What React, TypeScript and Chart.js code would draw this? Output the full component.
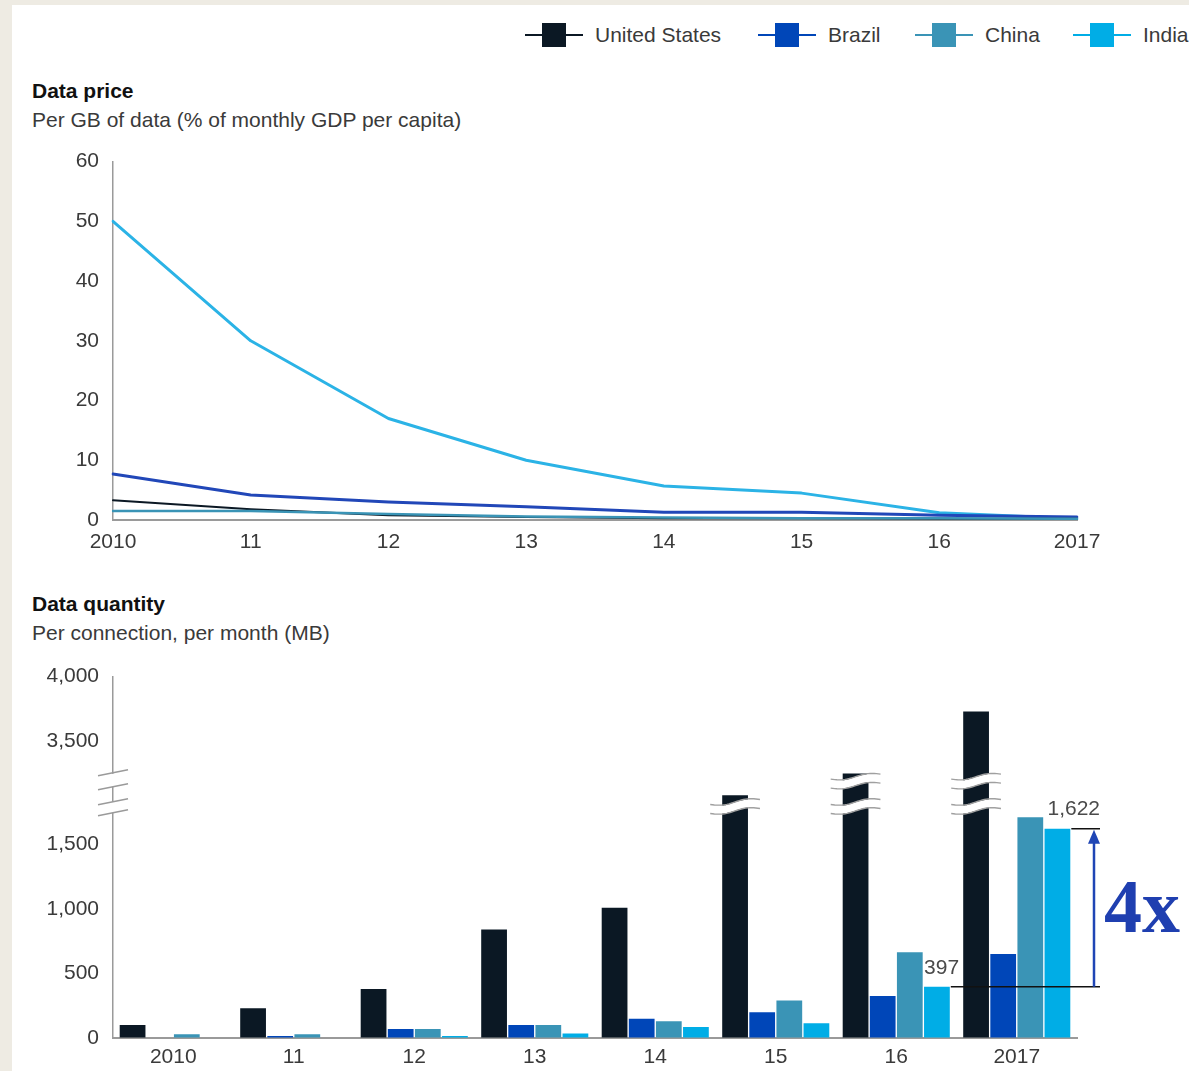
import React, { useEffect, useRef } from 'react';
import { Chart, registerables } from 'chart.js';

Chart.register(...registerables);

// ---------- data ----------
const years = ['2010', '11', '12', '13', '14', '15', '16', '2017'];
const seriesNames = ['United States', 'Brazil', 'China', 'India'];

// Data price: per GB (% of monthly GDP per capita)
const priceUS = [3.3, 1.8, 0.8, 0.5, 0.3, 0.3, 0.2, 0.2];
const priceBrazil = [7.7, 4.2, 3.0, 2.2, 1.3, 1.3, 0.8, 0.5];
const priceChina = [1.5, 1.5, 1.0, 0.6, 0.4, 0.3, 0.3, 0.2];
const priceIndia = [50, 30, 17, 10, 5.7, 4.5, 1.2, 0.2];
const priceTicks = [0, 10, 20, 30, 40, 50, 60];

// Data quantity: per connection, per month (MB)
const qtyUS = [100, 230, 380, 840, 1010, 2400, 3250, 3730];
const qtyBrazil = [0, 15, 70, 100, 150, 200, 325, 650];
const qtyChina = [30, 30, 70, 100, 130, 290, 665, 1710];
const qtyIndia = [0, 0, 15, 35, 85, 115, 397, 1622];
const qtyTicks = [0, 500, 1000, 1500, 3500, 4000];
const truncatedUS = [5, 6, 7]; // bars drawn with break marks

// ---------- styles ----------
const colorUS = '#0b1824';
const colorBrazil = '#0046b8';
const colorChina = '#3a94b6';
const colorIndia = '#00ade6';
const lineBrazil = '#2147b8';
const lineIndia = '#2bb3e6';
const seriesColors = [colorUS, colorBrazil, colorChina, colorIndia];
const FONT = '"Liberation Sans", Arial, sans-serif';
const TEXT = '#3a3a3a';
const AXIS = '#9a9a9a';

// broken axis mapping (real MB -> axis units)
const BREAK_LO = 1750;
const BREAK_HI = 3250;
const BREAK_SHIFT = 1200;
function toAxis(v: number): number {
  if (v <= BREAK_LO) return v;
  if (v >= BREAK_HI) return v - BREAK_SHIFT;
  const top = BREAK_HI - BREAK_SHIFT;
  return BREAK_LO + ((v - BREAK_LO) * (top - BREAK_LO)) / (BREAK_HI - BREAK_LO);
}

function PriceChart() {
  const ref = useRef<HTMLCanvasElement>(null);
  useEffect(() => {
    const mk = (label: string, data: number[], color: string, width: number) => ({
      label,
      data,
      borderColor: color,
      backgroundColor: color,
      borderWidth: width,
      pointRadius: 0,
      pointHoverRadius: 0,
      tension: 0,
      borderJoinStyle: 'round' as const,
      borderCapStyle: 'round' as const,
      fill: false,
    });
    const chart = new Chart(ref.current!, {
      type: 'line',
      data: {
        labels: years,
        datasets: [
          mk(seriesNames[2], priceChina, colorChina, 2.5),
          mk(seriesNames[0], priceUS, colorUS, 2),
          mk(seriesNames[1], priceBrazil, lineBrazil, 3),
          mk(seriesNames[3], priceIndia, lineIndia, 3),
        ],
      },
      options: {
        responsive: false,
        animation: false,
        devicePixelRatio: 1,
        layout: { autoPadding: false, padding: { top: 25, right: 112, left: 0, bottom: 0 } },
        plugins: { legend: { display: false }, tooltip: { enabled: false } },
        scales: {
          x: {
            type: 'category',
            offset: false,
            grid: { display: true, drawOnChartArea: false, drawTicks: false, color: 'transparent' },
            border: { display: true, color: AXIS, width: 2 },
            ticks: { font: { family: FONT, size: 21 }, color: TEXT, padding: 10, maxRotation: 0, autoSkip: false },
            afterFit: (s: any) => { s.height = 40; },
          },
          y: {
            min: 0,
            max: 60,
            grid: { display: true, drawOnChartArea: false, drawTicks: false, color: 'transparent' },
            border: { display: true, color: AXIS, width: 1.5 },
            afterBuildTicks: (s: any) => { s.ticks = priceTicks.map((v) => ({ value: v })); },
            ticks: { font: { family: FONT, size: 21 }, color: TEXT, padding: 14 },
            afterFit: (s: any) => { s.width = 113; },
          },
        },
      },
    });
    return () => chart.destroy();
  }, []);
  return (
    <canvas
      ref={ref}
      width={1189}
      height={425}
      style={{ position: 'absolute', left: 0, top: 135, width: 1189, height: 425 }}
    />
  );
}

function wavyPath(ctx: CanvasRenderingContext2D, x0: number, x1: number, yc: number, off: number) {
  const n = 24;
  for (let i = 0; i <= n; i++) {
    const t = i / n;
    const x = x0 + (x1 - x0) * t;
    const y = yc + off - 5 * (t - 0.5) + 1.8 * Math.sin(2 * Math.PI * t);
    if (i === 0) ctx.moveTo(x, y);
    else ctx.lineTo(x, y);
  }
}

const annotationPlugin = {
  id: 'qtyAnnotations',
  afterDraw(chart: any) {
    const ctx: CanvasRenderingContext2D = chart.ctx;
    const yS = chart.scales.y;
    const usMeta = chart.getDatasetMeta(0);
    const indMeta = chart.getDatasetMeta(3);

    // break marks on truncated US bars
    truncatedUS.forEach((i) => {
      const el = usMeta.data[i];
      const x0 = el.x - el.width / 2 - 12;
      const x1 = el.x + el.width / 2 + 12;
      const centers = i === 5 ? [yS.getPixelForValue(1794)] : [yS.getPixelForValue(1990), yS.getPixelForValue(1794)];
      centers.forEach((yc: number) => {
        ctx.save();
        ctx.beginPath();
        wavyPath(ctx, x0, x1, yc, 0);
        ctx.strokeStyle = '#ffffff';
        ctx.lineWidth = 8;
        ctx.stroke();
        ctx.beginPath();
        wavyPath(ctx, x0, x1, yc, -4.5);
        ctx.strokeStyle = '#a0a0a0';
        ctx.lineWidth = 1.4;
        ctx.stroke();
        ctx.beginPath();
        wavyPath(ctx, x0, x1, yc, 4.5);
        ctx.stroke();
        ctx.restore();
      });
    });

    // axis break on y axis
    const ax = chart.chartArea.left;
    const yc = yS.getPixelForValue(1900);
    ctx.save();
    ctx.fillStyle = '#ffffff';
    ctx.fillRect(ax - 2, yc - 19, 4, 13);
    ctx.fillRect(ax - 2, yc + 9, 4, 11);
    ctx.strokeStyle = '#9a9a9a';
    ctx.lineWidth = 1.5;
    [-20, -6, 9, 20].forEach((d) => {
      ctx.beginPath();
      ctx.moveTo(ax - 15, yc + d + 3);
      ctx.lineTo(ax + 15, yc + d - 3);
      ctx.stroke();
    });
    ctx.restore();

    // 397 -> 1,622 annotation
    const b16 = indMeta.data[6];
    const b17 = indMeta.data[7];
    const yLow = yS.getPixelForValue(toAxis(qtyIndia[6]));
    const yHigh = yS.getPixelForValue(toAxis(qtyIndia[7]));
    const xEnd = 1100;
    const xArrow = 1094;
    ctx.save();
    ctx.strokeStyle = '#111111';
    ctx.lineWidth = 1.5;
    ctx.beginPath();
    ctx.moveTo(b16.x + b16.width / 2 + 1, yLow);
    ctx.lineTo(xEnd, yLow);
    ctx.moveTo(b17.x + b17.width / 2 + 1, yHigh);
    ctx.lineTo(xEnd, yHigh);
    ctx.stroke();

    ctx.strokeStyle = '#1f45b5';
    ctx.fillStyle = '#1f45b5';
    ctx.lineWidth = 2.5;
    ctx.beginPath();
    ctx.moveTo(xArrow, yLow);
    ctx.lineTo(xArrow, yHigh + 12);
    ctx.stroke();
    ctx.beginPath();
    ctx.moveTo(xArrow, yHigh + 1);
    ctx.lineTo(xArrow - 6, yHigh + 15);
    ctx.lineTo(xArrow + 6, yHigh + 15);
    ctx.closePath();
    ctx.fill();

    ctx.font = `21px ${FONT}`;
    ctx.fillStyle = '#4a4a4a';
    ctx.textBaseline = 'alphabetic';
    ctx.textAlign = 'left';
    ctx.fillText(qtyIndia[6].toLocaleString('en-US'), b16.x - b16.width / 2, yLow - 13);
    ctx.textAlign = 'right';
    ctx.fillText(qtyIndia[7].toLocaleString('en-US'), xEnd, yHigh - 14);

    ctx.font = `bold 76px "Liberation Serif", "Times New Roman", serif`;
    ctx.fillStyle = '#1f3fb0';
    ctx.textAlign = 'left';
    ctx.fillText('4x', 1104, (yLow + yHigh) / 2 + 24);
    ctx.restore();
  },
};

function QuantityChart() {
  const ref = useRef<HTMLCanvasElement>(null);
  useEffect(() => {
    const mk = (label: string, data: number[], color: string) => ({
      label,
      data: data.map(toAxis),
      backgroundColor: color,
      borderWidth: 0,
      barPercentage: 0.95,
      categoryPercentage: 0.9,
    });
    const chart = new Chart(ref.current!, {
      type: 'bar',
      data: {
        labels: years,
        datasets: [
          mk(seriesNames[0], qtyUS, colorUS),
          mk(seriesNames[1], qtyBrazil, colorBrazil),
          mk(seriesNames[2], qtyChina, colorChina),
          mk(seriesNames[3], qtyIndia, colorIndia),
        ],
      },
      options: {
        responsive: false,
        animation: false,
        devicePixelRatio: 1,
        layout: { padding: { top: 26, right: 112, left: 0, bottom: 0 } },
        plugins: { legend: { display: false }, tooltip: { enabled: false } },
        scales: {
          x: {
            grid: { display: true, drawOnChartArea: false, drawTicks: false, color: 'transparent' },
            border: { display: true, color: AXIS, width: 2 },
            ticks: { font: { family: FONT, size: 21 }, color: TEXT, padding: 7, maxRotation: 0, autoSkip: false },
            afterFit: (s: any) => { s.height = 33; },
          },
          y: {
            min: 0,
            max: toAxis(4000),
            grid: { display: true, drawOnChartArea: false, drawTicks: false, color: 'transparent' },
            border: { display: true, color: AXIS, width: 1.5 },
            afterBuildTicks: (s: any) => { s.ticks = qtyTicks.map((v) => ({ value: toAxis(v) })); },
            ticks: {
              font: { family: FONT, size: 21 },
              color: TEXT,
              padding: 14,
              callback: (_v: any, i: number) => qtyTicks[i].toLocaleString('en-US'),
            },
            afterFit: (s: any) => { s.width = 113; },
          },
        },
      },
      plugins: [annotationPlugin],
    });
    return () => chart.destroy();
  }, []);
  return (
    <canvas
      ref={ref}
      width={1189}
      height={421}
      style={{ position: 'absolute', left: 0, top: 650, width: 1189, height: 421 }}
    />
  );
}

const legendTextX = [595, 828, 985, 1143];

function Legend() {
  return (
    <>
      {seriesNames.map((name, i) => {
        const cx = legendTextX[i] - 41;
        return (
          <React.Fragment key={name}>
            <div style={{ position: 'absolute', left: cx - 29, top: 34, width: 58, height: 2, background: seriesColors[i] }} />
            <div style={{ position: 'absolute', left: cx - 12, top: 23, width: 24, height: 24, background: seriesColors[i] }} />
            <div
              style={{
                position: 'absolute',
                left: legendTextX[i],
                top: 22,
                font: `21px ${FONT}`,
                lineHeight: '26px',
                color: '#3a3a3a',
                whiteSpace: 'nowrap',
              }}
            >
              {name}
            </div>
          </React.Fragment>
        );
      })}
    </>
  );
}

export default function App() {
  const titleStyle: React.CSSProperties = {
    position: 'absolute',
    left: 32,
    font: `bold 21px ${FONT}`,
    color: '#111',
    whiteSpace: 'nowrap',
    lineHeight: '26px',
  };
  const subStyle: React.CSSProperties = {
    position: 'absolute',
    left: 32,
    font: `21px ${FONT}`,
    color: '#3a3a3a',
    whiteSpace: 'nowrap',
    lineHeight: '26px',
  };
  return (
    <div
      style={{
        position: 'fixed',
        left: 0,
        top: 0,
        width: 1189,
        height: 1071,
        background: '#eeebe3',
        overflow: 'hidden',
      }}
    >
      <div style={{ position: 'absolute', left: 12, top: 5, right: 0, bottom: 0, background: '#ffffff' }} />
      <Legend />
      <div style={{ ...titleStyle, top: 78 }}>Data price</div>
      <div style={{ ...subStyle, top: 107 }}>Per GB of data (% of monthly GDP per capita)</div>
      <div style={{ ...titleStyle, top: 591 }}>Data quantity</div>
      <div style={{ ...subStyle, top: 620 }}>Per connection, per month (MB)</div>
      <PriceChart />
      <QuantityChart />
    </div>
  );
}
